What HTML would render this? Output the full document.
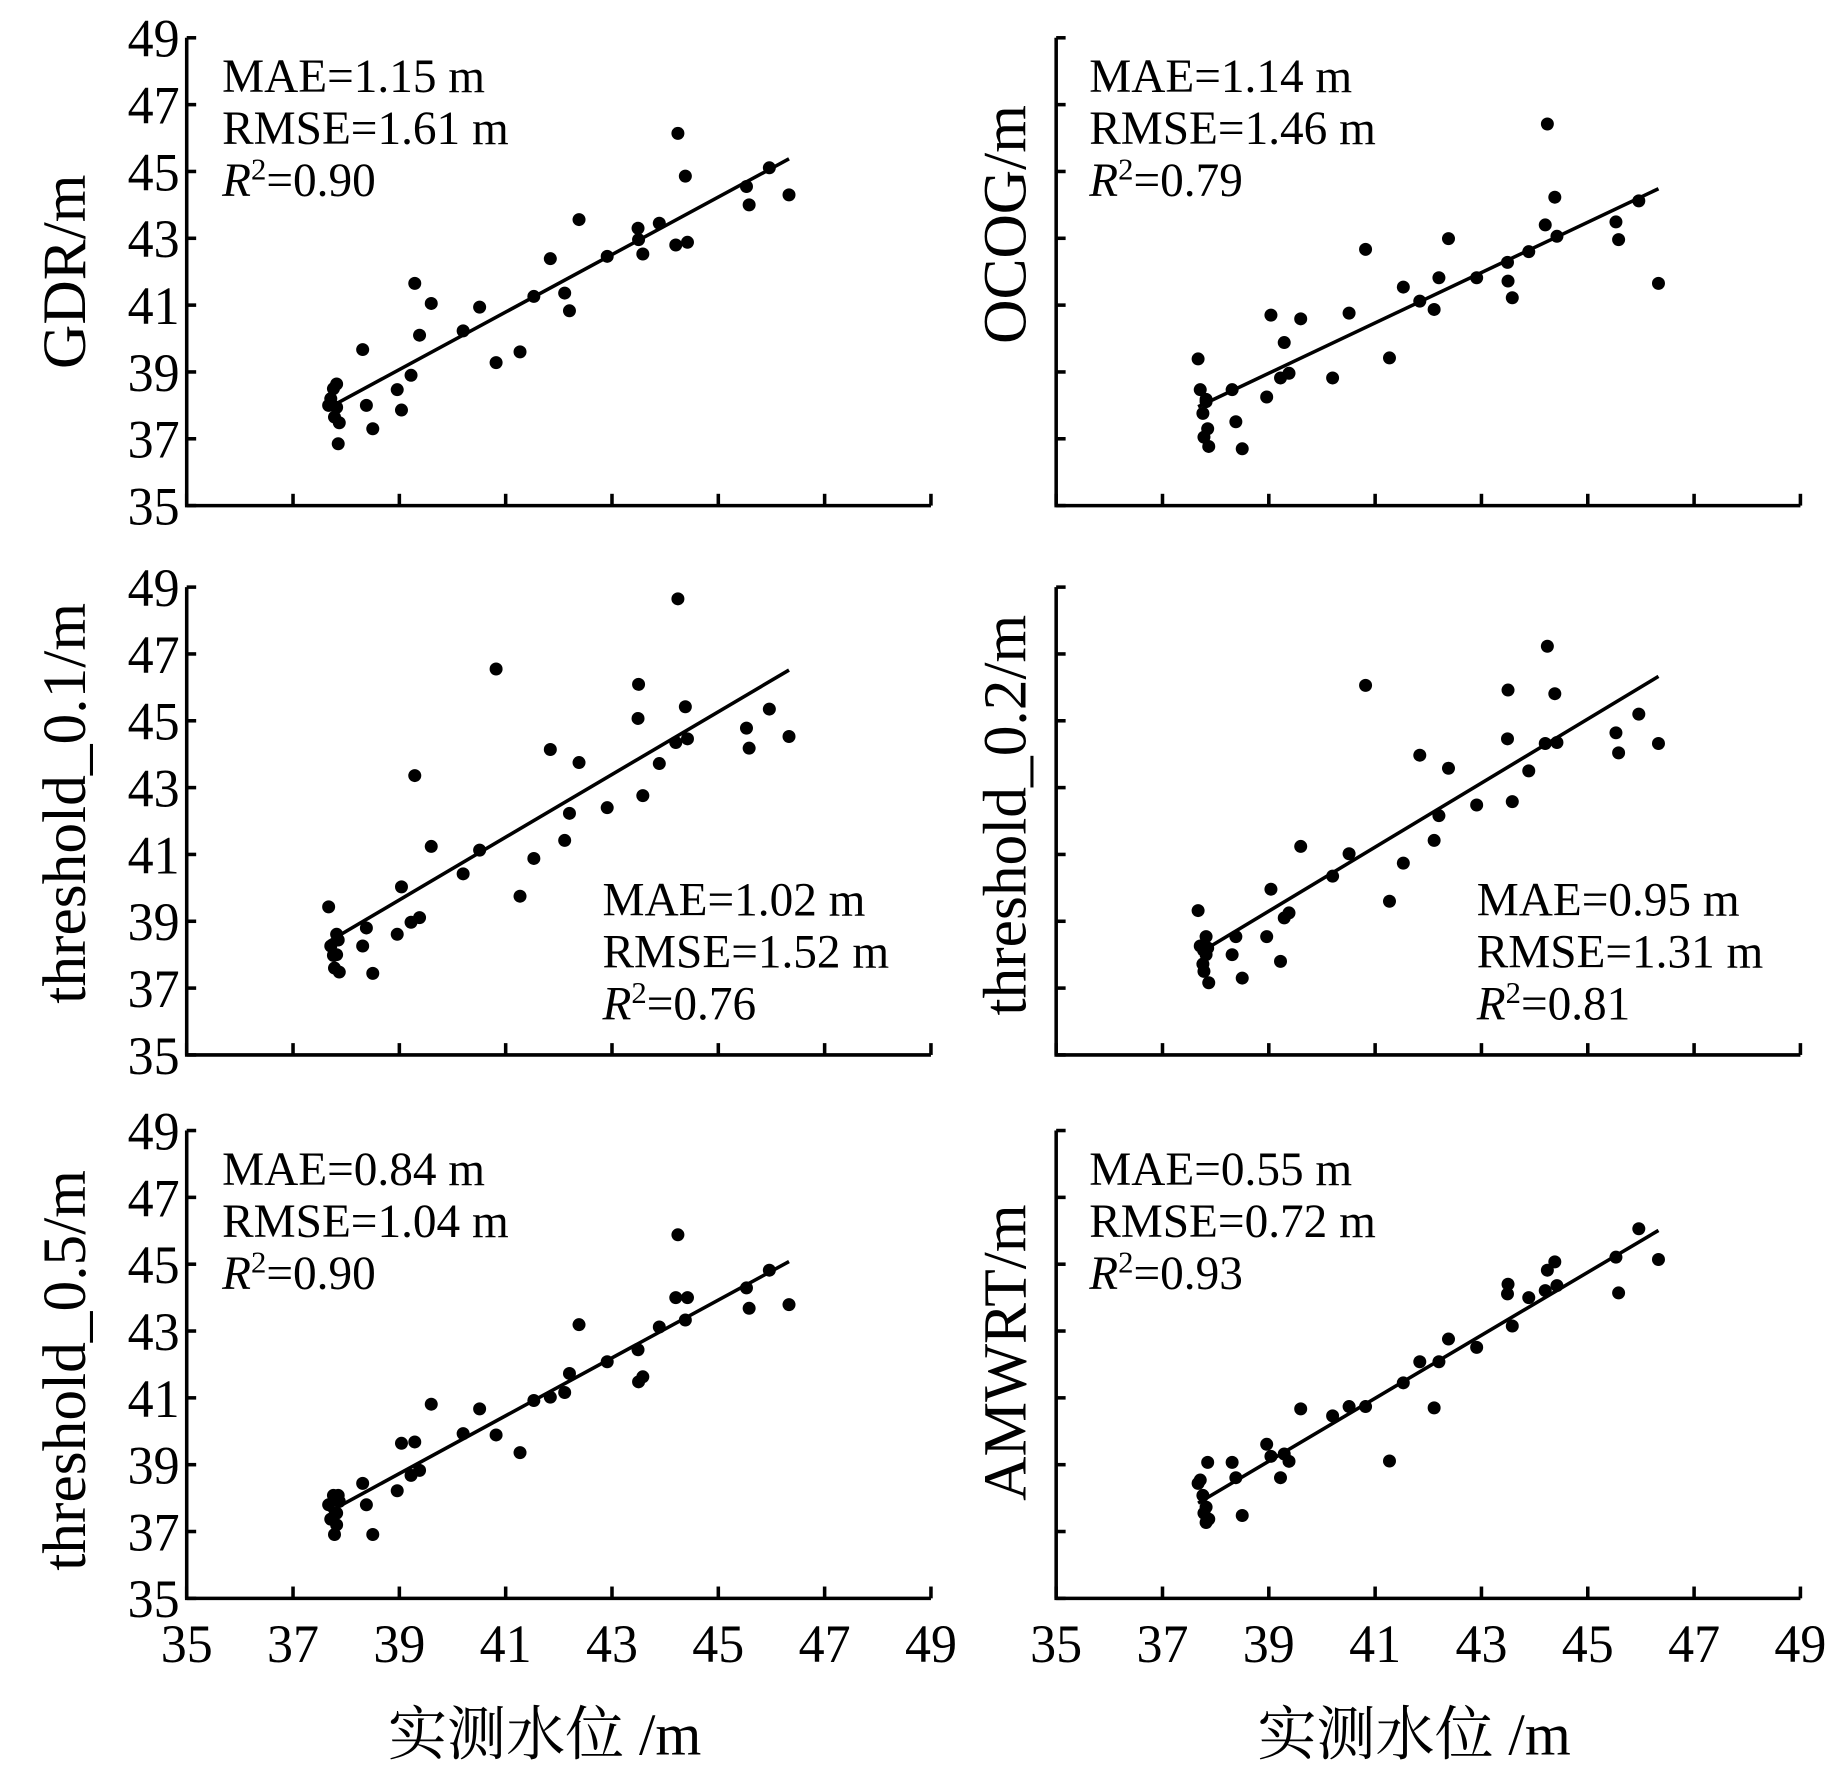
<!DOCTYPE html>
<html><head><meta charset="utf-8"><style>
html,body{margin:0;padding:0;background:#fff;}
svg{display:block;}
text{font-family:"Liberation Serif","Noto Serif CJK SC",serif;fill:#000;}
</style></head><body>
<svg id="chart" width="1843" height="1772" viewBox="0 0 1560 1500" xmlns="http://www.w3.org/2000/svg"></svg>
<script>
const xTicks = [35,37,39,41,43,45,47,49];
const yTicks = [35,37,39,41,43,45,47,49];
const measured = [37.67,37.71,37.76,37.78,37.82,37.82,37.87,37.85,38.31,38.38,38.5,38.96,39.04,39.22,39.29,39.38,39.6,40.2,40.51,40.82,41.27,41.53,41.84,42.11,42.2,42.38,42.91,43.49,43.5,43.58,43.89,44.2,44.24,44.38,44.42,45.53,45.58,45.96,46.33];
const gdrValues = [38.0,38.2,38.5,37.65,38.64,37.94,37.48,36.85,39.67,38.0,37.3,38.47,37.86,38.9,41.65,40.1,41.05,40.23,40.94,39.28,39.6,41.26,42.39,41.36,40.83,43.56,42.46,43.3,42.96,42.53,43.45,42.8,46.14,44.86,42.88,44.55,44.0,45.11,44.3];
const ocogValues = [39.39,38.47,37.76,37.05,38.18,38.11,36.77,37.3,38.47,37.51,36.7,38.25,40.7,38.82,39.88,38.96,40.59,38.82,40.76,42.67,39.42,41.54,41.12,40.87,41.82,42.99,41.82,42.28,41.72,41.22,42.6,43.4,46.42,44.23,43.06,43.49,42.96,44.12,41.65];
const t01Values = [39.43,38.26,37.98,37.6,38.61,38.0,37.48,38.44,38.26,38.8,37.44,38.61,40.03,38.97,43.36,39.11,41.24,40.42,41.13,46.55,39.75,40.88,44.14,41.42,42.23,43.75,42.4,45.07,46.09,42.76,43.72,44.35,48.65,45.42,44.46,44.78,44.18,45.35,44.53];
const t02Values = [39.32,38.26,37.72,37.5,38.54,38.0,37.16,38.2,38.0,38.54,37.3,38.54,39.96,37.8,39.1,39.25,41.24,40.35,41.02,46.06,39.6,40.74,43.97,41.42,42.16,43.58,42.48,44.46,45.92,42.58,43.5,44.32,47.23,45.81,44.35,44.64,44.04,45.2,44.32];
const t05Values = [37.8,37.37,38.08,36.91,37.2,37.55,37.9,38.08,38.44,37.8,36.91,38.22,39.64,38.68,39.68,38.83,40.81,39.93,40.67,39.89,39.36,40.92,41.02,41.16,41.73,43.19,42.08,42.44,41.48,41.63,43.12,44.0,45.88,43.33,44.0,44.29,43.68,44.82,43.79];
const amwrtValues = [38.44,38.54,38.08,37.55,37.73,37.27,37.37,39.07,39.07,38.61,37.48,39.61,39.25,38.61,39.32,39.1,40.67,40.46,40.74,40.74,39.11,41.45,42.08,40.7,42.08,42.76,42.51,44.11,44.4,43.15,44.0,44.21,44.82,45.07,44.36,45.21,44.14,46.06,45.14];
const panelNames = ["GDR/m","OCOG/m","threshold_0.1/m","threshold_0.2/m","threshold_0.5/m","AMWRT/m"];
const maeTexts = ["1.15","1.14","1.02","0.95","0.84","0.55"];
const rmseTexts = ["1.61","1.46","1.52","1.31","1.04","0.72"];
const r2Texts = ["0.90","0.79","0.76","0.81","0.90","0.93"];
const seriesList = [gdrValues,ocogValues,t01Values,t02Values,t05Values,amwrtValues];

const NS="http://www.w3.org/2000/svg";
const svg=document.getElementById('chart');
function mk(tag,attrs,parent){const e=document.createElementNS(NS,tag);for(const k in attrs)e.setAttribute(k,attrs[k]);(parent||svg).appendChild(e);return e;}

const colX=[158,894], rowTop=[32,497,957], W=630, H=396;
const labelY=[[230,190],[680,690],[1160,1145]];
const statPos=[[[188,78],[922,78]],[[510,775],[1250,775]],[[188,1003],[922,1003]]];

for(let p=0;p<6;p++){
  const col=p%2,row=Math.floor(p/2);
  const x0=colX[col],y0=rowTop[row];
  const sx=v=>x0+(v-35)/14*W;
  const sy=v=>y0+H-(v-35)/14*H;
  const g=mk('g',{});
  
  
  const ax=mk('path',{d:`M${x0},${y0} V${y0+H} H${x0+W}`,fill:'none',stroke:'#000','stroke-width':3},g);
  
  
  for(const t of yTicks){
    const tk=mk('line',{x1:x0,x2:x0+8,y1:sy(t),y2:sy(t),stroke:'#000','stroke-width':3},g);
    
    
    if(col===0){
      const tl=mk('text',{x:x0-6,y:sy(t)+16,'font-size':46,'text-anchor':'end',textLength:44,lengthAdjust:'spacingAndGlyphs'},g);
      tl.textContent=t;
      
      
    }
  }
  for(const t of xTicks){
    const tk=mk('line',{x1:sx(t),x2:sx(t),y1:y0+H,y2:y0+H-10,stroke:'#000','stroke-width':3},g);
    
    
    if(row===2){
      const tl=mk('text',{x:sx(t),y:y0+H+54,'font-size':46,'text-anchor':'middle',textLength:44,lengthAdjust:'spacingAndGlyphs'},g);
      tl.textContent=t;
      
      
    }
  }
  const ys=seriesList[p];
  // regression
  const n=measured.length;let mx=0,my=0;for(let i=0;i<n;i++){mx+=measured[i];my+=ys[i];}mx/=n;my/=n;
  let sxy=0,sxx=0;for(let i=0;i<n;i++){sxy+=(measured[i]-mx)*(ys[i]-my);sxx+=(measured[i]-mx)**2;}
  const b=sxy/sxx,a=my-b*mx;const xa=Math.min(...measured),xb=Math.max(...measured);
  const fl=mk('line',{x1:sx(xa),y1:sy(a+b*xa),x2:sx(xb),y2:sy(a+b*xb),stroke:'#000','stroke-width':3},g);
  
  
  for(let i=0;i<n;i++){
    const c=mk('circle',{cx:sx(measured[i]),cy:sy(ys[i]),r:5.5,fill:'#000'},g);
    
    
  }
  const yl=mk('text',{x:0,y:0,'font-size':52,'text-anchor':'middle',transform:`translate(${col===0?72:868},${labelY[row][col]}) rotate(-90)`},g);
  yl.textContent=panelNames[p];
  
  
  const [tx,ty]=statPos[row][col];
  const s1=mk('text',{x:tx,y:ty,'font-size':40},g);s1.textContent='MAE='+maeTexts[p]+' m';
  
  
  const s2=mk('text',{x:tx,y:ty+44,'font-size':40},g);s2.textContent='RMSE='+rmseTexts[p]+' m';
  
  
  const s3=mk('text',{x:tx,y:ty+88,'font-size':40},g);
  s3.innerHTML='<tspan font-style="italic">R</tspan><tspan dy="-14" font-size="26">2</tspan><tspan dy="14">='+r2Texts[p]+'</tspan>';
  
  
}
for(let col=0;col<2;col++){
  const xl=mk('text',{x:colX[col]+303,y:1485,'font-size':50,'text-anchor':'middle'});
  xl.textContent='实测水位 /m';
  
  
}
</script>
</body></html>
